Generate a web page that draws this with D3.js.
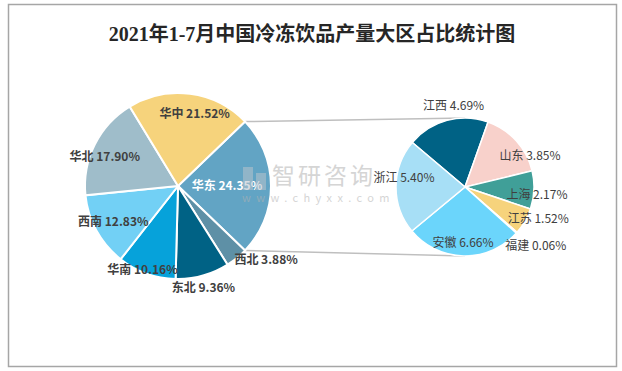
<!DOCTYPE html>
<html>
<head>
<meta charset="utf-8">
<script src="https://cdn.jsdelivr.net/npm/d3@7/dist/d3.min.js"></script>
<style>
  body { margin: 0; background: #fff; }
  text { font-family: "Noto Sans CJK SC", "Noto Sans", sans-serif; }
</style>
</head>
<body>
<div id="chart"></div>
<script>
var width = 622;
var height = 371;

// main pie: regions (华东 is split out on the right)
var regions = ["华东", "西北", "东北", "华南", "西南", "华北", "华中"];
var regionValues = [24.35, 3.88, 9.36, 10.16, 12.83, 17.90, 21.52];
var regionColors = ["#62a4c4", "#5e90a6", "#006285", "#06a2da", "#72d0f5", "#9fbdca", "#f6d37c"];

// second pie: provinces of 华东
var provinces = ["江西", "山东", "上海", "江苏", "福建", "安徽", "浙江"];
var provinceValues = [4.69, 3.85, 2.17, 1.52, 0.06, 6.66, 5.40];
var provinceColors = ["#006285", "#f8d1cb", "#409f98", "#f6d37c", "#f6d37c", "#6bd5fb", "#a7dff6"];

// label placement (angle in degrees from 12 o'clock, radius in px)
var regionLabelAngle = [90, 130, 166, 203, 241, 292, 13];
var regionLabelRad = [49, 115, 105, 91, 74, 79, 74];
var provinceLabelAngle = [352, 64.5, 96.3, 113.7, 129.7, 182, 278.4];
var provinceLabelRad = [82, 72, 72.4, 80, 92, 56, 61.7];

var svg = d3.select("#chart")
    .append("svg")
    .attr("width", width)
    .attr("height", height);

//Border
svg.append("rect")
    .attr("x", 8.5)
    .attr("y", 4.5)
    .attr("width", 608)
    .attr("height", 362)
    .attr("fill", "#fff")
    .attr("stroke", "#a6a6a6")
    .attr("stroke-width", 1.5);

//Title
svg.append("text")
    .attr("x", 312)
    .attr("y", 41)
    .attr("text-anchor", "middle")
    .attr("font-size", 20)
    .attr("font-weight", "bold")
    .attr("fill", "#262626")
    .style("font-family", "'Liberation Serif', 'Noto Sans CJK SC', serif")
    .text("2021年1-7月中国冷冻饮品产量大区占比统计图");

var rad = Math.PI / 180;

// main pie geometry
var cx1 = 178, cy1 = 186, r1 = 93;
var total1 = d3.sum(regionValues);
var start1 = (90 - regionValues[0] / total1 * 180) * rad;

var pie1 = d3.pie().sort(null).startAngle(start1).endAngle(start1 + 2 * Math.PI);
var arcs1 = pie1(regionValues);
var arc1 = d3.arc().innerRadius(0).outerRadius(r1);

// second pie geometry
var cx2 = 465, cy2 = 187, r2 = 69;
var start2 = -49.8 * rad;
var pie2 = d3.pie().sort(null).startAngle(start2).endAngle(start2 + 2 * Math.PI);
var arcs2 = pie2(provinceValues);
var arc2 = d3.arc().innerRadius(0).outerRadius(r2);

//Connector lines
var a0 = arcs1[0].startAngle, a1 = arcs1[0].endAngle;
var lines = [
    [cx1 + r1 * Math.sin(a0), cy1 - r1 * Math.cos(a0), cx2, cy2 - r2],
    [cx1 + r1 * Math.sin(a1), cy1 - r1 * Math.cos(a1), cx2, cy2 + r2]
];
svg.selectAll(".conn")
    .data(lines)
    .enter()
    .append("line")
    .attr("x1", function(d) { return d[0]; })
    .attr("y1", function(d) { return d[1]; })
    .attr("x2", function(d) { return d[2]; })
    .attr("y2", function(d) { return d[3]; })
    .attr("stroke", "#bfbfbf")
    .attr("stroke-width", 1.5);

//Main pie
var g1 = svg.append("g").attr("transform", "translate(" + cx1 + "," + cy1 + ")");
g1.selectAll("path")
    .data(arcs1)
    .enter()
    .append("path")
    .attr("d", arc1)
    .attr("fill", function(d, i) { return regionColors[i]; })
    .attr("stroke", "#fff")
    .attr("stroke-width", 2);

//Second pie
var g2 = svg.append("g").attr("transform", "translate(" + cx2 + "," + cy2 + ")");
g2.selectAll("path")
    .data(arcs2)
    .enter()
    .append("path")
    .attr("d", arc2)
    .attr("fill", function(d, i) { return provinceColors[i]; })
    .attr("stroke", "#fff")
    .attr("stroke-width", 1.5);

//Watermark
var wm = svg.append("g").attr("opacity", 0.55);
wm.append("rect")
    .attr("x", 243).attr("y", 167).attr("width", 10).attr("height", 23)
    .attr("fill", "#b9c3cc");
wm.append("rect")
    .attr("x", 256).attr("y", 173).attr("width", 10).attr("height", 17)
    .attr("fill", "#b9c3cc");
wm.append("text")
    .attr("x", 272).attr("y", 184)
    .attr("font-size", 23)
    .attr("letter-spacing", 3)
    .attr("fill", "#b3b3b3")
    .text("智研咨询");
wm.append("text")
    .attr("x", 242).attr("y", 202)
    .attr("font-size", 11)
    .attr("letter-spacing", 5.4)
    .attr("fill", "#b3b3b3")
    .text("www.chyxx.com");

//Labels main pie
g1.selectAll(".lbl")
    .data(arcs1)
    .enter()
    .append("text")
    .attr("x", function(d, i) { return regionLabelRad[i] * Math.sin(regionLabelAngle[i] * rad); })
    .attr("y", function(d, i) { return -regionLabelRad[i] * Math.cos(regionLabelAngle[i] * rad); })
    .attr("dy", "0.35em")
    .attr("text-anchor", "middle")
    .attr("font-size", 12)
    .attr("font-weight", "bold")
    .attr("fill", function(d, i) { return i === 0 ? "#fff" : "#404040"; })
    .text(function(d, i) { return regions[i] + " " + regionValues[i].toFixed(2) + "%"; });

//Labels second pie
g2.selectAll(".lbl")
    .data(arcs2)
    .enter()
    .append("text")
    .attr("x", function(d, i) { return provinceLabelRad[i] * Math.sin(provinceLabelAngle[i] * rad); })
    .attr("y", function(d, i) { return -provinceLabelRad[i] * Math.cos(provinceLabelAngle[i] * rad); })
    .attr("dy", "0.35em")
    .attr("text-anchor", "middle")
    .attr("font-size", 12)
    .attr("fill", "#404040")
    .text(function(d, i) { return provinces[i] + " " + provinceValues[i].toFixed(2) + "%"; });
</script>
</body>
</html>
